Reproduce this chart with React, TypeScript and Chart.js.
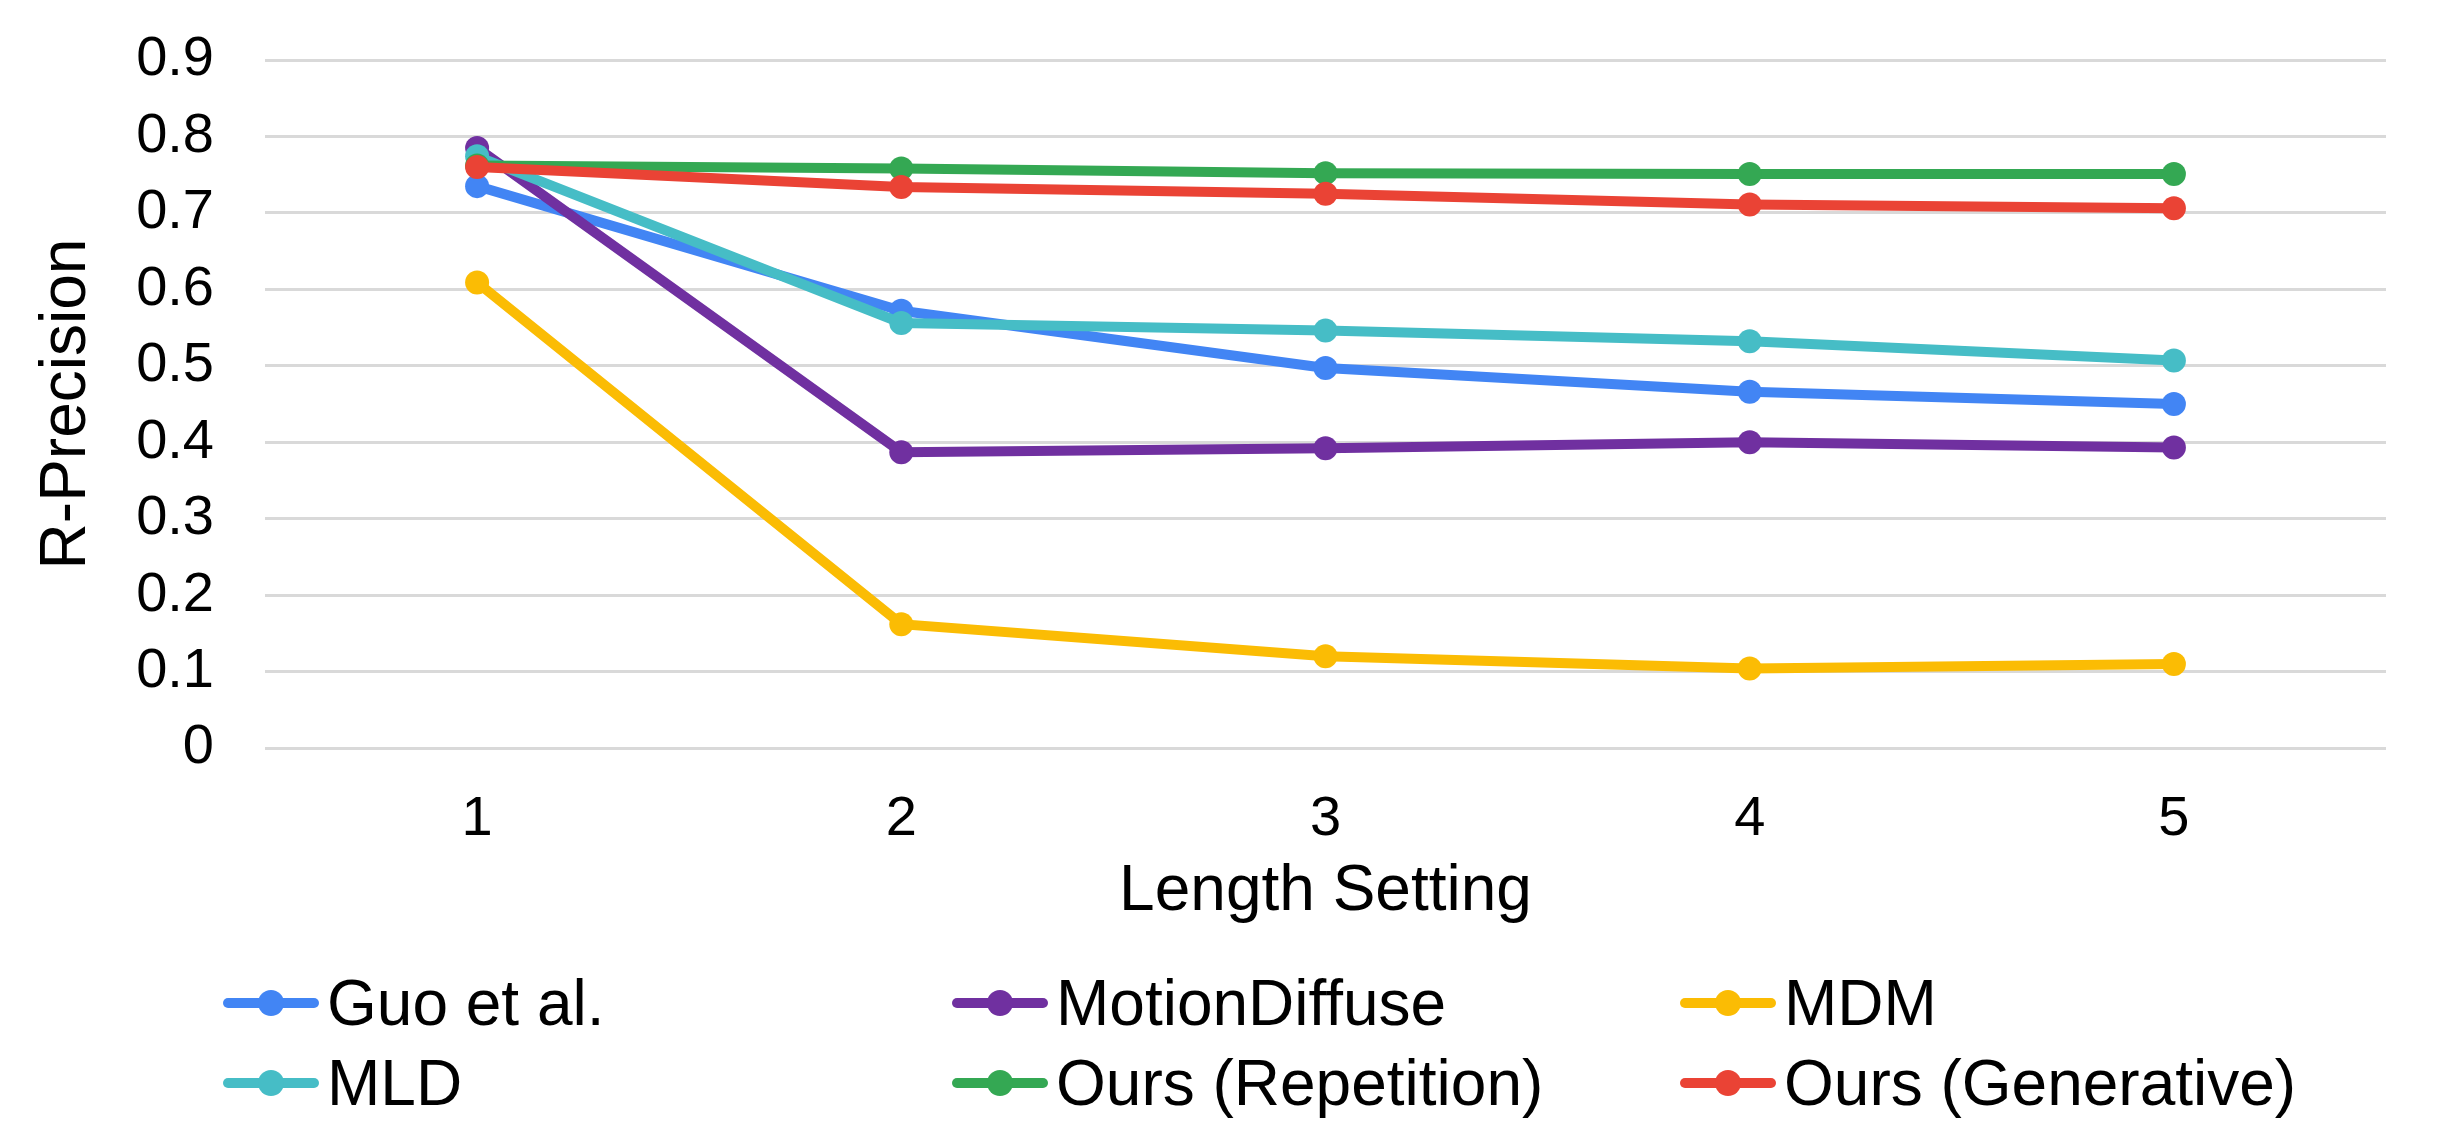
import { useEffect, useRef } from "react"
import { Chart, registerables } from "chart.js"

Chart.register(...registerables)

// Valores (R-Precision por configuração de comprimento)
const lengthSettings = ["1", "2", "3", "4", "5"]
const guoEtAl = [0.735, 0.572, 0.497, 0.466, 0.45]
const motionDiffuse = [0.785, 0.387, 0.392, 0.4, 0.393]
const mdm = [0.609, 0.162, 0.12, 0.104, 0.11]
const mld = [0.774, 0.556, 0.546, 0.532, 0.507]
const oursRepetition = [0.762, 0.758, 0.752, 0.751, 0.751]
const oursGenerative = [0.76, 0.734, 0.725, 0.711, 0.706]

const seriesLabels = ["Guo et al.", "MotionDiffuse", "MDM", "MLD", "Ours (Repetition)", "Ours (Generative)"]
const seriesValues = [guoEtAl, motionDiffuse, mdm, mld, oursRepetition, oursGenerative]
const seriesColors = ["#4285f4", "#7030a0", "#fbbc04", "#46bdc6", "#34a853", "#ea4335"]

const FONT = "'Liberation Sans', Arial, sans-serif"
const WIDTH = 2442
const CANVAS_HEIGHT = 960

// posições da legenda (grade de 3 colunas)
const legendCols = [223, 952, 1680]
const legendRows = [1003, 1083]

function LengthChart() {
  const chartRef = useRef<HTMLCanvasElement>(null)
  const chartInstance = useRef<Chart | null>(null)

  useEffect(() => {
    if (!chartRef.current) return
    if (chartInstance.current) chartInstance.current.destroy()

    const ctx = chartRef.current.getContext("2d")
    if (!ctx) return

    chartInstance.current = new Chart(ctx, {
      type: "line",
      data: {
        labels: lengthSettings,
        datasets: seriesLabels.map((label, i) => ({
          label,
          data: seriesValues[i],
          borderColor: seriesColors[i],
          backgroundColor: seriesColors[i],
          borderWidth: 10,
          pointRadius: 12,
          pointBorderWidth: 0,
          pointBackgroundColor: seriesColors[i],
          tension: 0,
          // a última série fica por cima
          order: seriesLabels.length - 1 - i,
        })),
      },
      options: {
        responsive: false,
        animation: false,
        devicePixelRatio: 1,
        layout: { padding: { top: 60, right: 56, bottom: 0, left: 0 } },
        plugins: {
          legend: { display: false },
          tooltip: { enabled: false },
        },
        scales: {
          x: {
            offset: true,
            grid: { display: false },
            border: { display: false },
            ticks: { color: "#000", font: { family: FONT, size: 56 }, padding: 30 },
            title: {
              display: true,
              text: "Length Setting",
              color: "#000",
              font: { family: FONT, size: 64 },
              padding: { top: 0, bottom: 29 },
            },
            afterFit: (scale) => {
              scale.height = 212
            },
          },
          y: {
            min: 0,
            max: 0.9,
            grid: { color: "#d9d9d9", lineWidth: 3, drawTicks: false },
            border: { display: false },
            ticks: { stepSize: 0.1, color: "#000", font: { family: FONT, size: 56 }, padding: 51 },
            title: {
              display: true,
              text: "R-Precision",
              color: "#000",
              font: { family: FONT, size: 64 },
              padding: { top: 29, bottom: 0 },
            },
            afterFit: (scale) => {
              scale.width = 265
              // o espaço do padding dos rótulos não deve empurrar a área do gráfico
              scale.paddingTop = 0
              scale.paddingBottom = 0
            },
          },
        },
      },
    })

    return () => {
      if (chartInstance.current) {
        chartInstance.current.destroy()
        chartInstance.current = null
      }
    }
  }, [])

  return <canvas ref={chartRef} width={WIDTH} height={CANVAS_HEIGHT} style={{ display: "block" }} />
}

export default function App() {
  return (
    <div style={{ position: "absolute", left: 0, top: 0, width: WIDTH, height: 1141, background: "#fff" }}>
      <LengthChart />
      {seriesLabels.map((label, i) => (
        <div
          key={label}
          style={{
            position: "absolute",
            left: legendCols[i % 3],
            top: legendRows[Math.floor(i / 3)] - 40,
            height: 80,
            display: "flex",
            alignItems: "center",
          }}
        >
          <span style={{ position: "relative", width: 96, height: 26, marginRight: 8, flex: "none" }}>
            <span
              style={{
                position: "absolute",
                left: 0,
                right: 0,
                top: 8,
                height: 10,
                borderRadius: 5,
                background: seriesColors[i],
              }}
            />
            <span
              style={{
                position: "absolute",
                left: 35,
                top: 0,
                width: 26,
                height: 26,
                borderRadius: "50%",
                background: seriesColors[i],
              }}
            />
          </span>
          <span style={{ fontFamily: FONT, fontSize: 64, lineHeight: "64px", color: "#000", whiteSpace: "nowrap" }}>
            {label}
          </span>
        </div>
      ))}
    </div>
  )
}
